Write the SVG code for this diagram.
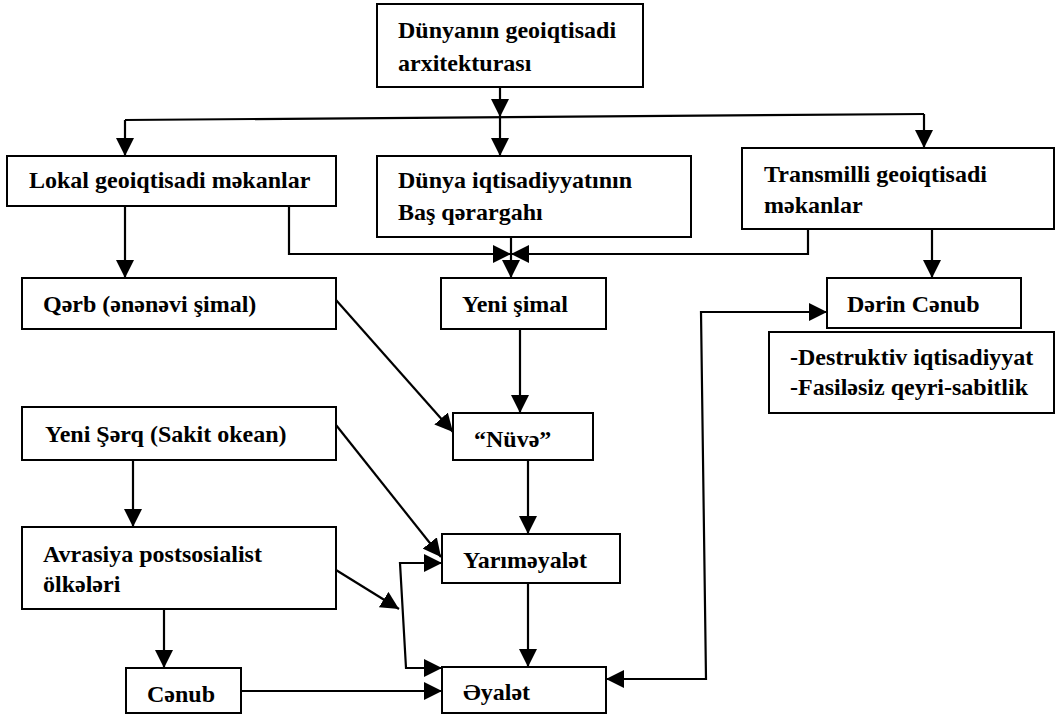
<svg xmlns="http://www.w3.org/2000/svg" width="1057" height="719" viewBox="0 0 1057 719">
<style>
.box{fill:#fff;stroke:#000;stroke-width:2}
.t{font-family:'Liberation Serif','Times New Roman','DejaVu Serif',serif;font-weight:700;font-size:24px;fill:#000}
.c{fill:none;stroke:#000;stroke-width:2.2}
.a{marker-end:url(#ah)}
.b{marker-start:url(#ah);marker-end:url(#ah)}
</style>
<defs>
<marker id="ah" markerUnits="userSpaceOnUse" markerWidth="18" markerHeight="18" viewBox="0 0 17 17" refX="17" refY="8.5" orient="auto-start-reverse">
<path d="M0,0 L17,8.5 L0,17 Z" fill="#000"/>
</marker>
</defs>
<rect width="1057" height="719" fill="#fff"/>
<g id="connectors">
<path class="c a" d="M500,87 L500,117"/>
<path class="c" d="M125,120 L924,114"/>
<path class="c a" d="M125,120 L125,156"/>
<path class="c a" d="M500,117 L500,156"/>
<path class="c a" d="M924,114 L924,148"/>
<path class="c a" d="M125,206 L125,278"/>
<path class="c a" d="M289,206 L289,254 L511,254"/>
<path class="c a" d="M808,229 L808,254 L511,254"/>
<path class="c a" d="M511,237 L511,278"/>
<path class="c a" d="M932,229 L932,278"/>
<path class="c a" d="M336,300 L453,432"/>
<path class="c a" d="M520,329 L520,413"/>
<path class="c a" d="M133,460 L133,527"/>
<path class="c a" d="M336,425 L441,557"/>
<path class="c a" d="M528,460 L528,534"/>
<path class="c a" d="M336,570 L399,609"/>
<path class="c b" d="M442,563 L400,563 L406,668 L442,668"/>
<path class="c a" d="M164,609 L164,668"/>
<path class="c a" d="M241,691 L442,691"/>
<path class="c a" d="M528,583 L528,667"/>
<path class="c b" d="M827,312 L701,312 L706,679 L606,679"/>
</g>
<g id="n-top"><rect class="box" x="377" y="4" width="266" height="83"/><text class="t" x="398" y="38">Dünyanın geoiqtisadi</text><text class="t" x="398" y="71">arxitekturası</text></g>
<g id="n-lokal"><rect class="box" x="7" y="156" width="329" height="50"/><text class="t" x="29" y="188">Lokal geoiqtisadi məkanlar</text></g>
<g id="n-dunya"><rect class="box" x="377" y="156" width="314" height="81"/><text class="t" x="398" y="188">Dünya iqtisadiyyatının</text><text class="t" x="398" y="220">Baş qərargahı</text></g>
<g id="n-trans"><rect class="box" x="742" y="148" width="312" height="81"/><text class="t" x="764" y="182">Transmilli geoiqtisadi</text><text class="t" x="764" y="213">məkanlar</text></g>
<g id="n-qerb"><rect class="box" x="22" y="278" width="314" height="51"/><text class="t" x="43" y="312">Qərb (ənənəvi şimal)</text></g>
<g id="n-yenisimal"><rect class="box" x="441" y="278" width="165" height="51"/><text class="t" x="462" y="312">Yeni şimal</text></g>
<g id="n-derin"><rect class="box" x="827" y="278" width="194" height="50"/><text class="t" x="847" y="312">Dərin Cənub</text></g>
<g id="n-info"><rect class="box" x="769" y="332" width="285" height="81"/><text class="t" x="790" y="365">-Destruktiv iqtisadiyyat</text><text class="t" x="790" y="395">-Fasiləsiz qeyri-sabitlik</text></g>
<g id="n-yenisherq"><rect class="box" x="22" y="407" width="314" height="53"/><text class="t" x="45" y="442">Yeni Şərq (Sakit okean)</text></g>
<g id="n-nuve"><rect class="box" x="453" y="413" width="140" height="47"/><text class="t" x="474" y="447">“Nüvə”</text></g>
<g id="n-avrasiya"><rect class="box" x="22" y="527" width="314" height="82"/><text class="t" x="43" y="562">Avrasiya postsosialist</text><text class="t" x="43" y="592">ölkələri</text></g>
<g id="n-yarim"><rect class="box" x="442" y="534" width="178" height="49"/><text class="t" x="463" y="568">Yarıməyalət</text></g>
<g id="n-cenub"><rect class="box" x="126" y="668" width="115" height="45"/><text class="t" x="147" y="702">Cənub</text></g>
<g id="n-eyalet"><rect class="box" x="442" y="667" width="164" height="46"/><text class="t" x="463" y="700">Əyalət</text></g>
</svg>
